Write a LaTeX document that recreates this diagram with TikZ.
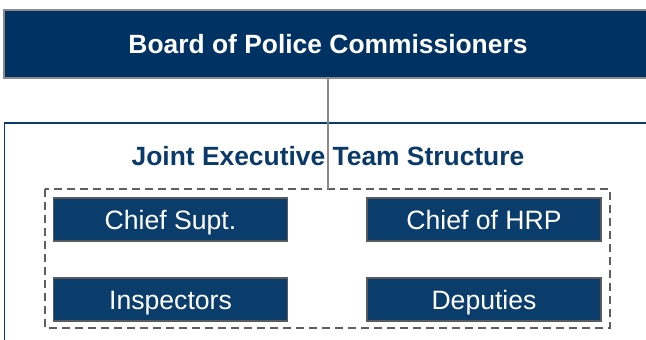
\documentclass[tikz,border=0pt]{standalone}
\usepackage{fontspec}
\setmainfont{Liberation Sans}
\definecolor{navytop}{HTML}{003263}
\definecolor{navybox}{HTML}{0B3D6C}
\definecolor{navyline}{HTML}{0A3A6A}
\definecolor{edgegray}{HTML}{8A8A8A}
\definecolor{boxedge}{HTML}{5A5A5A}
\definecolor{dashgray}{HTML}{5F5F5F}
\tikzset{
  topbox/.style={draw=edgegray, line width=1.2pt, fill=navytop},
  rolebox/.style={draw=boxedge, line width=1.5pt, fill=navybox, minimum width=234pt, minimum height=43pt, inner sep=0pt, text height=19pt, text depth=0pt, text=white, font=\fontsize{26.6}{30}\selectfont},
  grouplabel/.style={text=navyline, font=\bfseries\fontsize{26.4}{30}\selectfont, inner sep=0pt},
  dashbox/.style={draw=dashgray, line width=1.3pt, dash pattern=on 8pt off 5pt},
  linkline/.style={draw=edgegray, line width=2pt}
}
\begin{document}
\begin{tikzpicture}[x=1pt,y=-1pt]
\useasboundingbox (0,0) rectangle (646,340);
% top box
\fill[navytop] (4,10) rectangle (650,78);
\draw[edgegray, line width=1.2pt] (650,10) -- (4,10) -- (4,78) -- (650,78);
\node[text=white, font=\bfseries\fontsize{26.4}{30}\selectfont, inner sep=0pt, text height=19pt, text depth=0pt] (board) at (328,43.5) {Board of Police Commissioners};
\coordinate (boardbottom) at (328,78);
% outer group box
\draw[navyline, line width=1.5pt] (650,123) -- (4.5,123) -- (4.5,345);
\node[grouplabel, anchor=base] (jet) at (328,165) {Joint Executive Team Structure};
% dashed box
\draw[dashbox] (45,189) rectangle (610,328);
\coordinate (dashtop) at (328,189);
% role boxes
\node[rolebox] (cs) at (170.5,219.5) {Chief Supt.};
\node[rolebox] (hrp) at (484,219.5) {Chief of HRP};
\node[rolebox] (insp) at (170.5,299.5) {Inspectors};
\node[rolebox] (dep) at (484,299.5) {Deputies};
% connector
\draw[linkline] (boardbottom) -- (dashtop);
\end{tikzpicture}
\end{document}
